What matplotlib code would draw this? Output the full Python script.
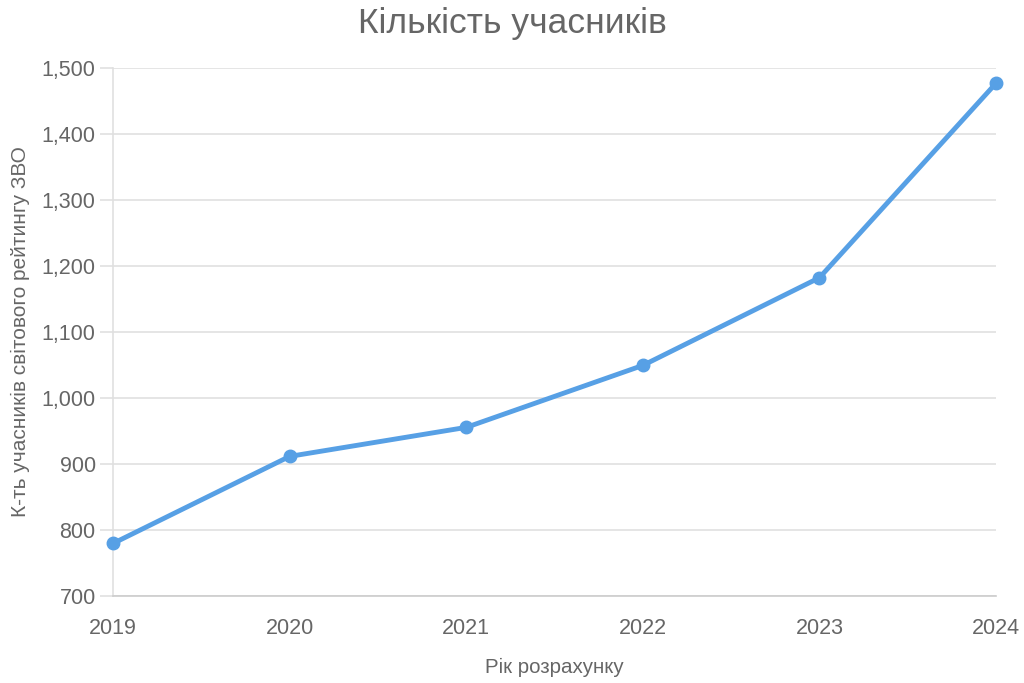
import matplotlib.pyplot as plt
from matplotlib.ticker import FuncFormatter

plt.rcParams['font.family'] = ['Liberation Sans', 'DejaVu Sans']

# Data
years = [2019, 2020, 2021, 2022, 2023, 2024]
participants = [779, 911, 955, 1049, 1182, 1477]

text_color = '#666666'
grid_color = '#e0e0e0'
line_color = '#57a0e5'

fig = plt.figure(figsize=(10.24, 6.83), dpi=100)
ax = fig.add_axes([0.1104, 0.1281, 0.8623, 0.7723])

ax.plot(years, participants, color=line_color, linewidth=3.5,
        marker='o', markersize=9, solid_capstyle='round', zorder=3,
        clip_on=False)

ax.set_xlim(years[0], years[-1])
ax.set_ylim(700, 1500)
ax.set_xticks(years)
ax.set_yticks(range(700, 1501, 100))
ax.yaxis.set_major_formatter(FuncFormatter(lambda v, p: f"{int(v):,}"))

ax.grid(axis='y', color=grid_color, linewidth=1.2)
ax.set_axisbelow(True)
for side in ['top', 'right']:
    ax.spines[side].set_visible(False)
ax.spines['left'].set_color(grid_color)
ax.spines['bottom'].set_color('#cccccc')
ax.spines['left'].set_linewidth(1.2)
ax.spines['bottom'].set_linewidth(1.2)

ax.tick_params(axis='y', length=9.5, width=1.2, color=grid_color, pad=3,
               labelsize=15.5, labelcolor=text_color)
ax.tick_params(axis='x', length=0, pad=16, labelsize=15.5, labelcolor=text_color)

fig.text(0.5, 0.966, "Кількість учасників", fontsize=25.5, color=text_color,
         ha='center', va='center')
ax.set_xlabel("Рік розрахунку", fontsize=14.8, color=text_color, labelpad=14)
ax.set_ylabel("К-ть учасників світового рейтингу ЗВО", fontsize=15,
              color=text_color, labelpad=8)

fig.savefig("out.png", dpi=100)
